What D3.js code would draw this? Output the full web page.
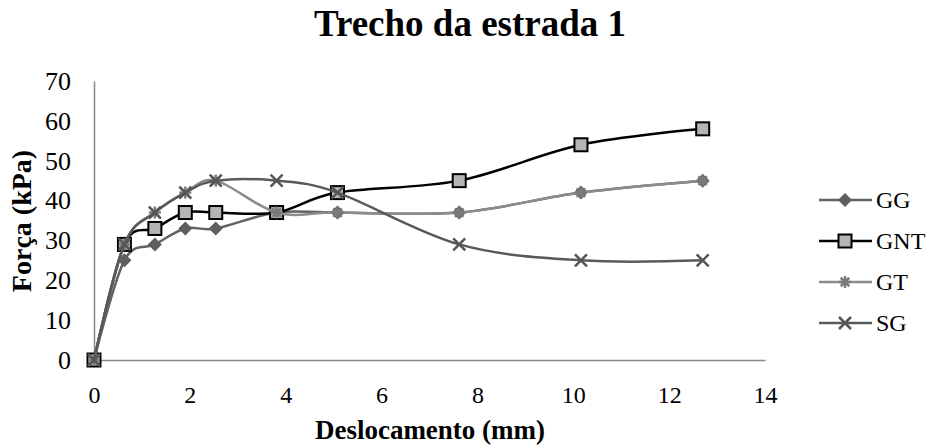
<!DOCTYPE html>
<html>
<head>
<meta charset="utf-8">
<script src="https://cdn.jsdelivr.net/npm/d3@7"></script>
<style>
  body { margin: 0; background: #fff; }
  text { font-family: "Liberation Serif", "Times New Roman", serif; }
</style>
</head>
<body>
<div id="chart"></div>
<script>
// data
var deslocamento = [0, 0.635, 1.27, 1.905, 2.54, 3.81, 5.08, 7.62, 10.16, 12.7];
var gg  = [0, 25, 29, 33, 33, 37, 37, 37, 42, 45];
var gnt = [0, 29, 33, 37, 37, 37, 42, 45, 54, 58];
var gt  = [0, 29, 37, 42, 45, 37, 37, 37, 42, 45];
var sg  = [0, 29, 37, 42, 45, 45, 42, 29, 25, 25];
var seriesNames = ['GG', 'GNT', 'GT', 'SG'];
var xTicks = [0, 2, 4, 6, 8, 10, 12, 14];
var yTicks = [0, 10, 20, 30, 40, 50, 60, 70];

var W = 934, H = 447;
var margin = {top: 81, left: 94, right: 169, bottom: 87};

var svg = d3.select('#chart').append('svg')
    .attr('width', W)
    .attr('height', H);

var x = d3.scaleLinear().domain([0, 14]).range([margin.left, W - margin.right]);
var y = d3.scaleLinear().domain([0, 70]).range([H - margin.bottom, margin.top]);

// axes
var xAxis = svg.append('g')
    .attr('transform', 'translate(0,' + y(0) + ')')
    .call(d3.axisBottom(x).tickValues(xTicks).tickSize(0).tickPadding(26).tickFormat(d3.format('d')));
var yAxis = svg.append('g')
    .attr('transform', 'translate(' + x(0) + ',0)')
    .call(d3.axisLeft(y).tickValues(yTicks).tickSize(0).tickPadding(23).tickFormat(d3.format('d')));

xAxis.selectAll('.tick text').style('font-size', '24px');
yAxis.selectAll('.tick text').style('font-size', '26px');
[xAxis, yAxis].forEach(function(a) {
    a.attr('font-size', null).attr('font-family', null);
    a.select('.domain').attr('stroke', '#868686').attr('stroke-width', 1.5);
    a.selectAll('.tick text').attr('fill', '#000');
});

// titles
svg.append('text')
    .attr('x', 470).attr('y', 36)
    .attr('text-anchor', 'middle')
    .style('font-size', '37px').attr('font-weight', 'bold')
    .text('Trecho da estrada 1');
svg.append('text')
    .attr('x', 430).attr('y', 439)
    .attr('text-anchor', 'middle')
    .style('font-size', '27px').attr('font-weight', 'bold')
    .text('Deslocamento (mm)');
svg.append('text')
    .attr('transform', 'translate(31,' + 221 + ') rotate(-90)')
    .attr('text-anchor', 'middle')
    .style('font-size', '28px').attr('font-weight', 'bold')
    .text('Força (kPa)');

// series
var series = [
    {name: 'GG',  values: gg,  line: '#626262', marker: 'diamond'},
    {name: 'GNT', values: gnt, line: '#000000', marker: 'square'},
    {name: 'GT',  values: gt,  line: '#8c8c8c', marker: 'star'},
    {name: 'SG',  values: sg,  line: '#595959', marker: 'cross'}
];

var line = d3.line()
    .x(function(d) { return x(d[0]) })
    .y(function(d) { return y(d[1]) })
    .curve(d3.curveCardinal.tension(0));

function drawMarker(g, type, cx, cy) {
    if (type == 'diamond') {
        g.append('path')
            .attr('d', 'M' + cx + ',' + (cy - 7) + 'L' + (cx + 7) + ',' + cy + 'L' + cx + ',' + (cy + 7) + 'L' + (cx - 7) + ',' + cy + 'Z')
            .attr('fill', '#5e5e5e');
    } else if (type == 'square') {
        g.append('rect')
            .attr('x', cx - 6.5).attr('y', cy - 6.5)
            .attr('width', 13).attr('height', 13)
            .attr('fill', '#b5b5b5').attr('stroke', '#000').attr('stroke-width', 2);
    } else if (type == 'star') {
        var r = 6;
        [0, 45, 90, 135].forEach(function(a) {
            var dx = r * Math.cos(a * Math.PI / 180), dy = r * Math.sin(a * Math.PI / 180);
            g.append('line')
                .attr('x1', cx - dx).attr('y1', cy - dy).attr('x2', cx + dx).attr('y2', cy + dy)
                .attr('stroke', '#7a7a7a').attr('stroke-width', 2.5);
        });
    } else {
        var s = 6;
        g.append('path')
            .attr('d', 'M' + (cx - s) + ',' + (cy - s) + 'L' + (cx + s) + ',' + (cy + s) + 'M' + (cx + s) + ',' + (cy - s) + 'L' + (cx - s) + ',' + (cy + s))
            .attr('stroke', '#555').attr('stroke-width', 2.5);
    }
}

series.forEach(function(s) {
    var pts = deslocamento.map(function(d, i) { return [d, s.values[i]] });
    var g = svg.append('g').attr('class', 'serie');
    g.append('path')
        .datum(pts)
        .attr('d', line)
        .attr('fill', 'none')
        .attr('stroke', s.line)
        .attr('stroke-width', 2.5);
    pts.forEach(function(p) { drawMarker(g, s.marker, x(p[0]), y(p[1])) });
});

// legend
var legend = svg.append('g').attr('class', 'legend');
series.forEach(function(s, i) {
    var ly = 200 + i * 41;
    var g = legend.append('g');
    g.append('line')
        .attr('x1', 819).attr('x2', 872).attr('y1', ly).attr('y2', ly)
        .attr('stroke', s.line).attr('stroke-width', 2.5);
    drawMarker(g, s.marker, 845, ly);
    g.append('text')
        .attr('x', 876).attr('y', ly + 8)
        .style('font-size', '24px')
        .text(seriesNames[i]);
});
</script>
</body>
</html>
